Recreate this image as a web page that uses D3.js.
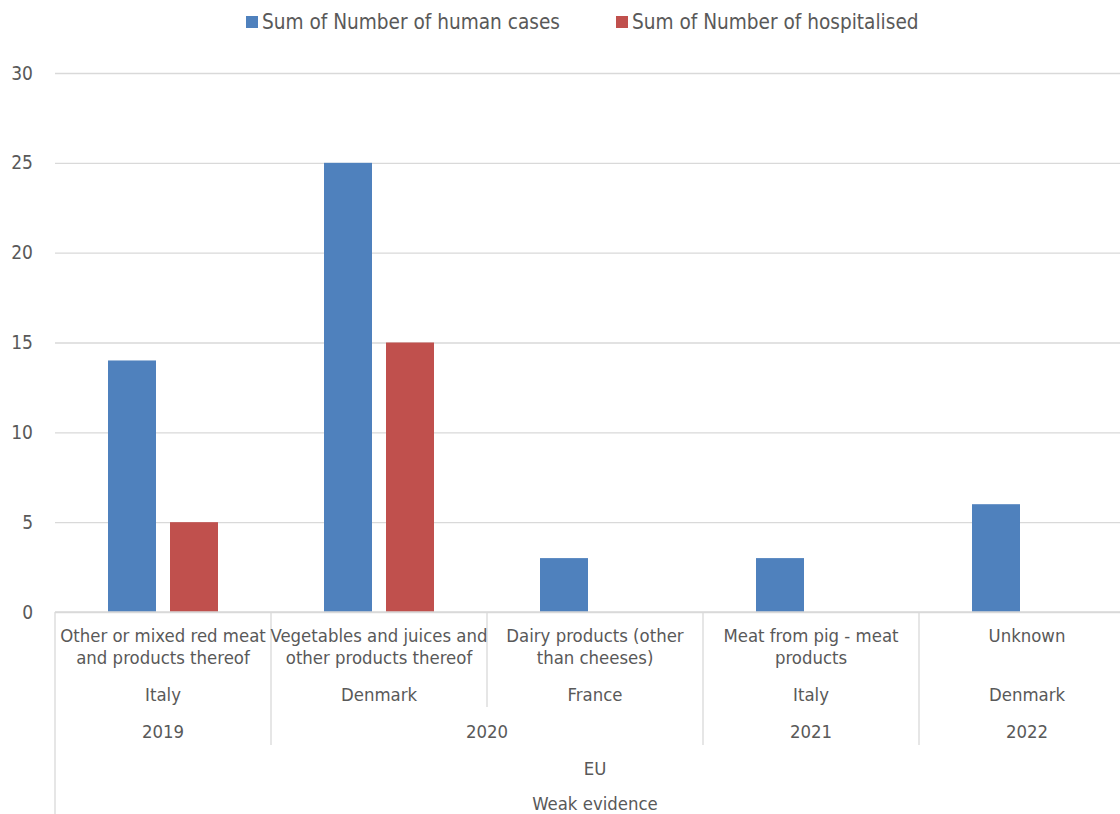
<!DOCTYPE html>
<html>
<head>
<meta charset="utf-8">
<script src="https://cdn.jsdelivr.net/npm/d3@7"></script>
<style>
  body { margin: 0; background: #fff; }
  text { font-family: "DejaVu Sans Condensed", "DejaVu Sans", sans-serif; fill: #595959; }
</style>
</head>
<body>
<div id="chart"></div>
<script>
// data
var categories = [
  ["Other or mixed red meat", "and products thereof"],
  ["Vegetables and juices and", "other products thereof"],
  ["Dairy products (other", "than cheeses)"],
  ["Meat from pig - meat", "products"],
  ["Unknown"]
];
var countries = ["Italy", "Denmark", "France", "Italy", "Denmark"];
var years = ["2019", "2020", "2020", "2021", "2022"];
var regions = ["EU", "EU", "EU", "EU", "EU"];
var evidence = ["Weak evidence", "Weak evidence", "Weak evidence", "Weak evidence", "Weak evidence"];

var seriesNames = ["Sum of Number of human cases", "Sum of Number of hospitalised"];
var humanCases = [14, 25, 3, 3, 6];
var hospitalised = [5, 15, 0, 0, 0];
var yTicks = [0, 5, 10, 15, 20, 25, 30];

var colors = ["#4f81bd", "#c0504d"];

// chart frame (plot runs a bit past the right edge, like the original)
var W = 1120, H = 814;
var mLeft = 55, mRight = 1135, mTop = 73, mBottom = 612;

var svg = d3.select("#chart").append("svg")
    .attr("width", W)
    .attr("height", H);

var idx = categories.map(function(d, i) { return i; });

var x0 = d3.scaleBand()
    .domain(idx)
    .range([mLeft, mRight])
    .padding(0);

var x1 = d3.scaleBand()
    .domain(seriesNames)
    .range([0, x0.bandwidth()])
    .paddingInner(0.226)
    .paddingOuter(0.855);

var y = d3.scaleLinear()
    .domain([0, 30])
    .range([mBottom, mTop]);

// gridlines + y labels
var yAxis = svg.append("g")
    .attr("transform", "translate(" + mLeft + ",0)")
    .call(d3.axisLeft(y).tickValues(yTicks).tickSize(-(mRight - mLeft)).tickPadding(22));
yAxis.select(".domain").remove();
yAxis.selectAll("line").attr("stroke", "#d9d9d9").attr("stroke-width", 1.3);
yAxis.selectAll("text").style("font-size", "19px").attr("fill", "#595959");

// bars
var rows = idx.map(function(i) { return [humanCases[i], hospitalised[i]]; });
var groups = svg.selectAll(".cat")
    .data(rows)
  .enter().append("g")
    .attr("class", "cat")
    .attr("transform", function(d, i) { return "translate(" + x0(i) + ",0)"; });

groups.selectAll("rect")
    .data(function(d) { return d.map(function(v, s) { return {s: s, v: v}; }).filter(function(d) { return d.v > 0; }); })
  .enter().append("rect")
    .attr("x", function(d) { return x1(seriesNames[d.s]); })
    .attr("width", x1.bandwidth())
    .attr("y", function(d) { return y(d.v); })
    .attr("height", function(d) { return y(0) - y(d.v); })
    .attr("fill", function(d) { return colors[d.s]; });

// multi-level category axis
var levels = [
  {labels: countries, y: 695, bottom: 707},
  {labels: years, y: 732, bottom: 745},
  {labels: regions, y: 769, bottom: 782},
  {labels: evidence, y: 804, bottom: 819}
];
var catBottom = 677;

function isBreak(k, i) {
  // boundary between i-1 and i at level k if this level or any outer one changes
  if (i === 0 || i === idx.length) return true;
  for (var j = k; j < levels.length; j++) {
    if (levels[j].labels[i - 1] !== levels[j].labels[i]) return true;
  }
  return false;
}

var sep = svg.append("g").attr("stroke", "#d9d9d9").attr("stroke-width", 1.3);
for (var b = 0; b <= idx.length; b++) {
  var end = catBottom;
  for (var k = 0; k < levels.length; k++) {
    if (isBreak(k, b)) end = levels[k].bottom; else break;
  }
  var xb = b < idx.length ? x0(b) : mRight;
  sep.append("line")
    .attr("x1", xb).attr("x2", xb)
    .attr("y1", mBottom).attr("y2", end);
}
// baseline
sep.append("line").attr("x1", mLeft).attr("x2", mRight).attr("y1", mBottom).attr("y2", mBottom);

// category labels (two lines)
var catText = svg.append("g").style("font-size", "18.4px").attr("text-anchor", "middle");
categories.forEach(function(lines, i) {
  var cx = x0(i) + x0.bandwidth() / 2;
  var t = catText.append("text").attr("x", cx).attr("y", 636);
  lines.forEach(function(l, li) {
    t.append("tspan")
      .attr("x", cx)
      .attr("dy", li === 0 ? "0.35em" : "22px")
      .text(l);
  });
});

// outer levels: merge consecutive runs
levels.forEach(function(lv, k) {
  var start = 0;
  for (var i = 1; i <= idx.length; i++) {
    if (isBreak(k, i)) {
      var xa = x0(start), xe = i < idx.length ? x0(i) : mRight;
      svg.append("text")
        .attr("x", (xa + xe) / 2)
        .attr("y", lv.y)
        .attr("dy", "0.35em")
        .attr("text-anchor", "middle")
        .style("font-size", "18.4px")
        .text(lv.labels[start]);
      start = i;
    }
  }
});

// legend
var legend = svg.append("g").style("font-size", "20.6px");
var lx = 246;
seriesNames.forEach(function(name, s) {
  legend.append("rect")
    .attr("x", lx).attr("y", 16)
    .attr("width", 12).attr("height", 12)
    .attr("fill", colors[s]);
  var t = legend.append("text")
    .attr("x", lx + 16).attr("y", 22)
    .attr("dy", "0.35em")
    .text(name);
  lx += 16 + t.node().getComputedTextLength() + 56;
});
</script>
</body>
</html>
